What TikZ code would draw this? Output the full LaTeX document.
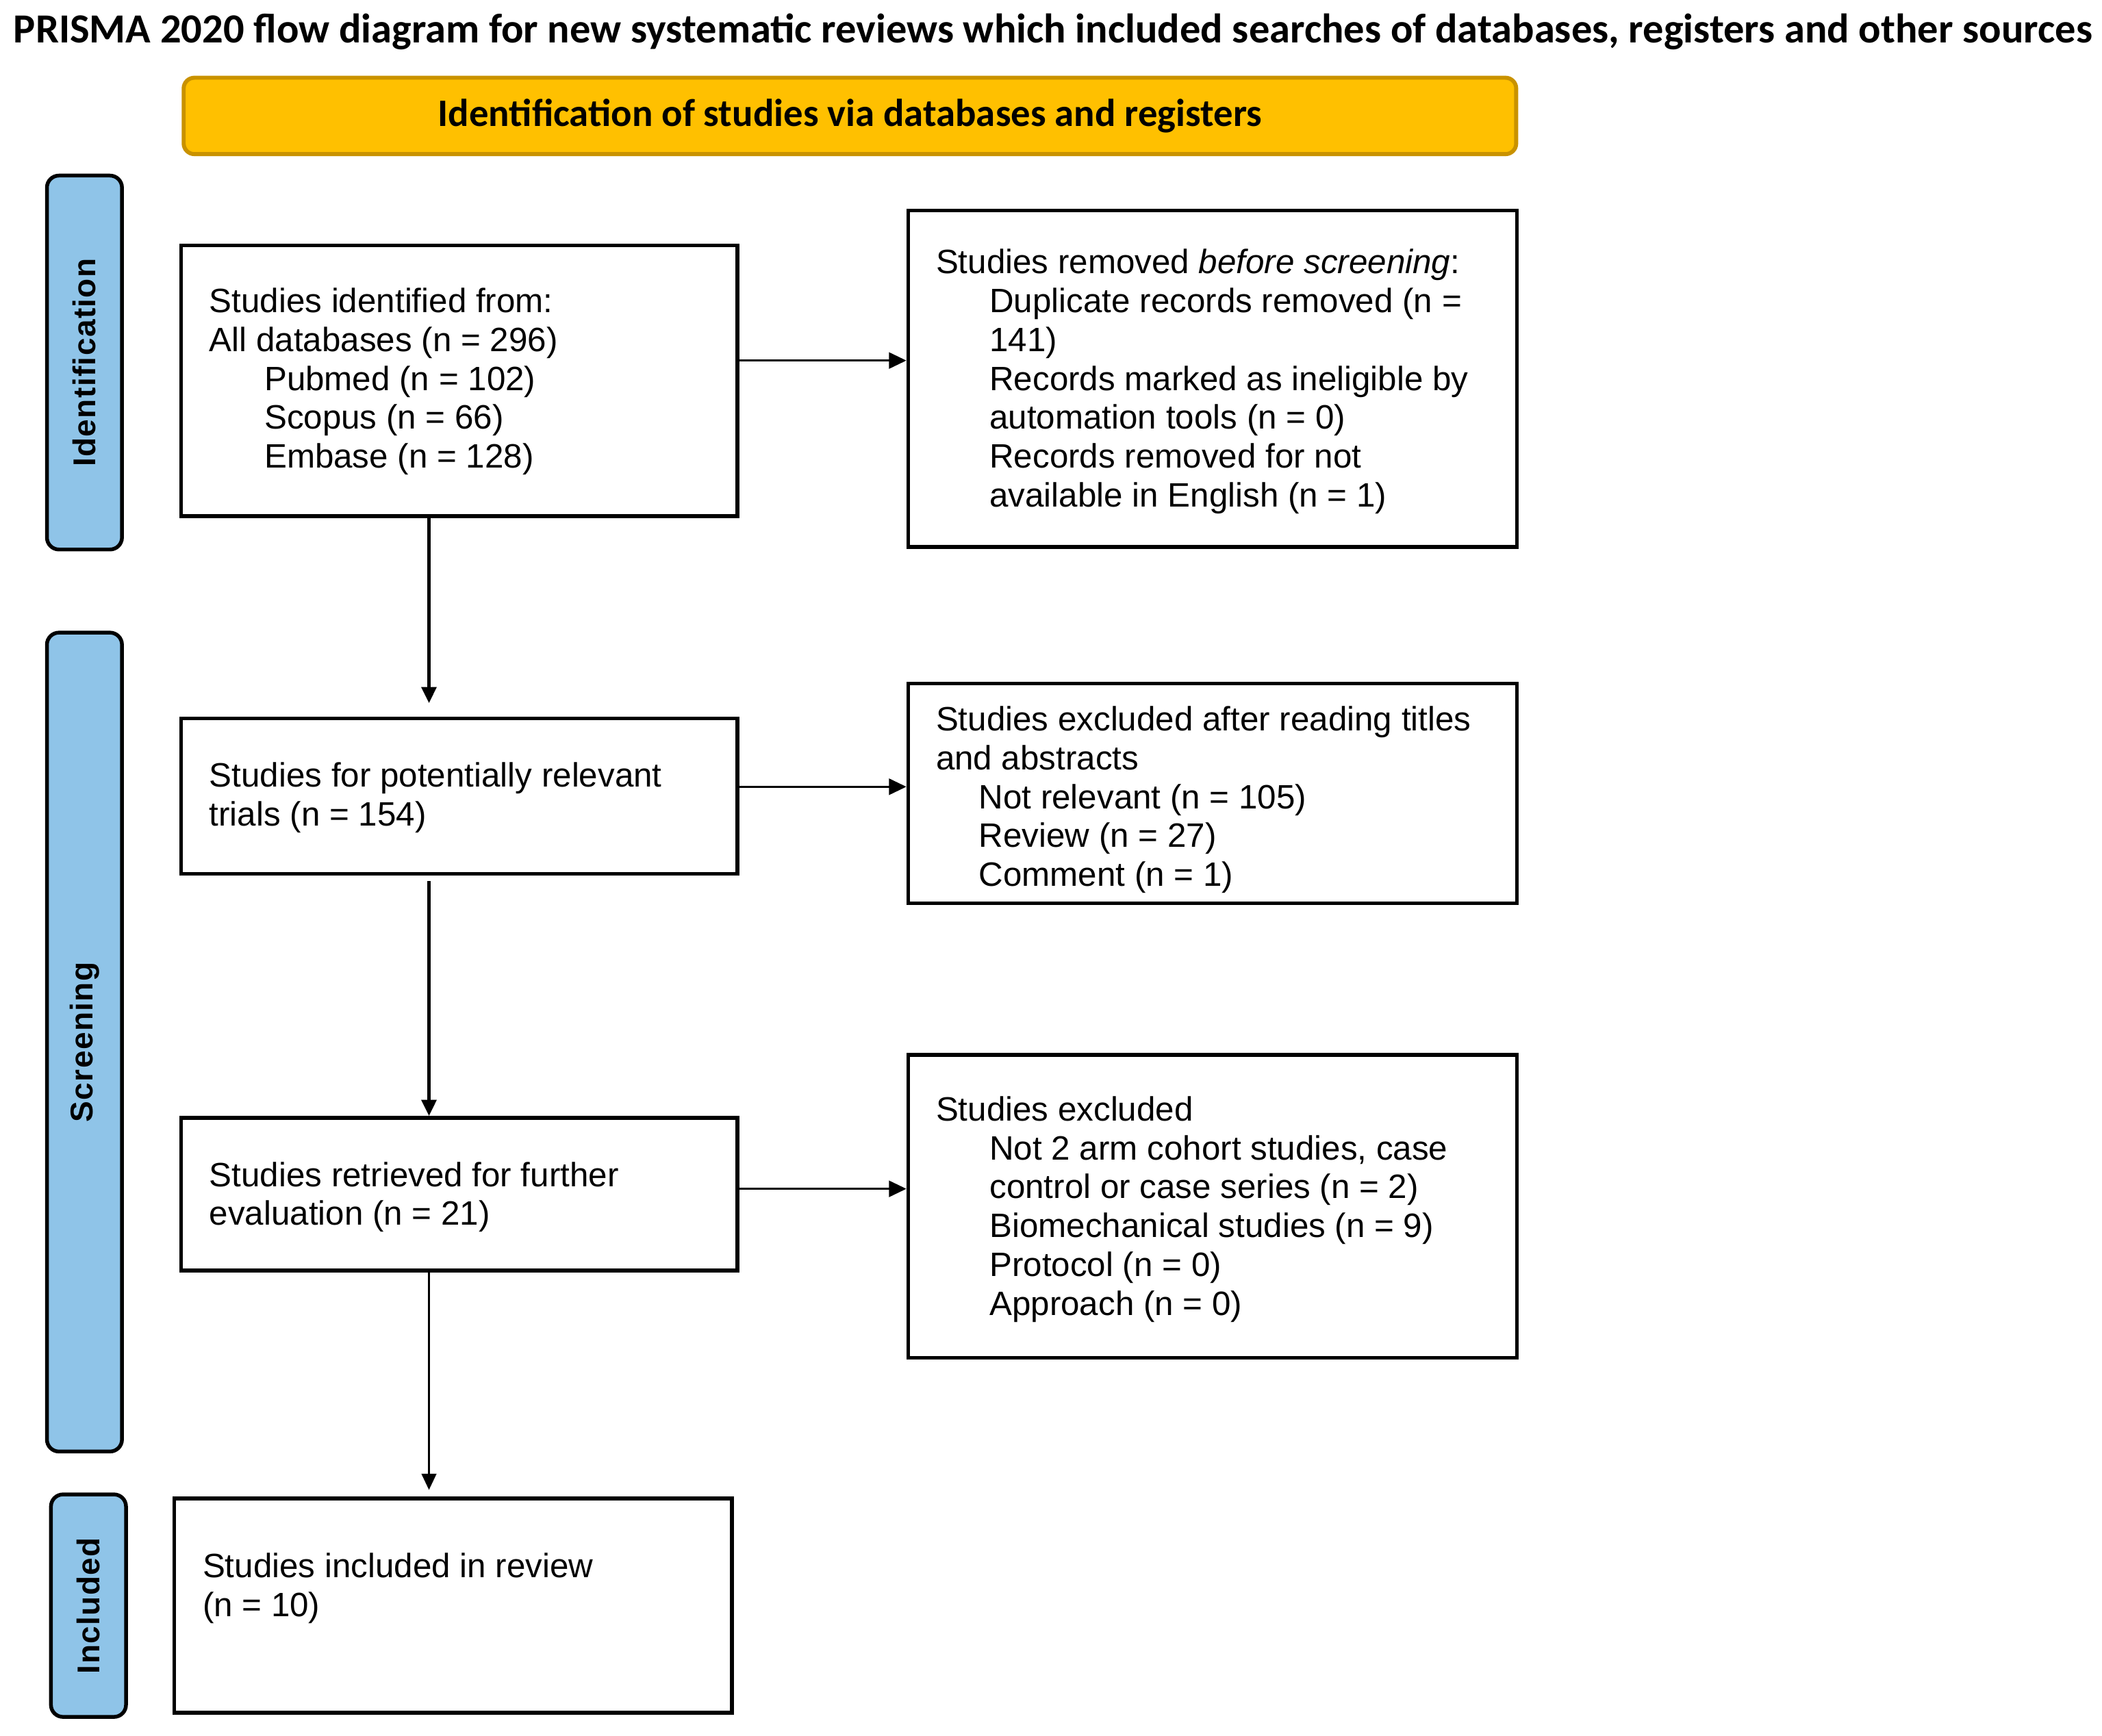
\documentclass[tikz,border=0pt]{standalone}
\usepackage{fontspec}
\setmainfont{Liberation Sans}
\newfontfamily\calib{Carlito}
\newfontfamily\sidefont[LetterSpace=3]{Liberation Sans}
\usetikzlibrary{arrows.meta,calc}
\definecolor{sideblue}{HTML}{8FC4E8}
\definecolor{hdrfill}{HTML}{FFC000}
\definecolor{hdrline}{HTML}{C99200}
\begin{document}
\begin{tikzpicture}[x=1pt,y=-1pt,
 box/.style={draw=black, line width=2.8pt, fill=white, inner sep=0pt},
 txt/.style={anchor=north west, inner sep=0pt, align=left, font=\fontsize{25.2}{29}\selectfont},
 side/.style={draw=black, line width=2.8pt, fill=sideblue, rounded corners=9pt, inner sep=0pt},
 sidelbl/.style={rotate=90, inner sep=0pt, font=\sidefont\bfseries\fontsize{23.5}{28}\selectfont},
 arr/.style={-{Triangle[length=12pt,width=11pt]}, line width=2.4pt},
 harr/.style={-{Triangle[length=13pt,width=12pt]}, line width=1.8pt},
]
\useasboundingbox (0,0) rectangle (1568,1295);

% title
\node[anchor=base west, inner sep=0pt, font=\calib\bfseries\fontsize{30.9}{36}\selectfont] (title) at (10,32)
 {PRISMA 2020 flow diagram for new systematic reviews which included searches of databases, registers and other sources};

% header
\node[draw=hdrline, line width=3pt, fill=hdrfill, rounded corners=8pt, minimum width=994pt, minimum height=57pt, inner sep=0pt,
 font=\calib\bfseries\fontsize{29}{34}\selectfont] (hdr) at (634,86.5) {Identification of studies via databases and registers};

% side bars
\node[side, minimum width=56pt, minimum height=279pt] (sid) at (63,270.5) {};
\node[sidelbl] (lid) at (sid.center) {Identification};
\node[side, minimum width=56pt, minimum height=611pt] (sscr) at (63,777.5) {};
\node[sidelbl] (lscr) at (sscr.center) {Screening};
\node[side, minimum width=56pt, minimum height=166pt] (sinc) at (66,1198) {};
\node[sidelbl] (linc) at (sinc.center) {Included};

% boxes
\node[box, minimum width=415pt, minimum height=202pt] (b1) at (342.5,284) {};
\node[box, minimum width=454pt, minimum height=251pt] (rem) at (904.5,282.5) {};
\node[box, minimum width=415pt, minimum height=116pt] (b2) at (342.5,594) {};
\node[box, minimum width=454pt, minimum height=164pt] (ex1) at (904.5,592) {};
\node[box, minimum width=415pt, minimum height=114pt] (b3) at (342.5,891) {};
\node[box, minimum width=454pt, minimum height=226pt] (ex2) at (904.5,900) {};
\node[box, minimum width=416pt, minimum height=160pt] (b4) at (338,1198) {};

% texts
\node[txt] (t1) at (156,213) {\rule{0pt}{20pt}Studies identified from:\\
All databases (n = 296)\\
\hspace*{41pt}Pubmed (n = 102)\\
\hspace*{41pt}Scopus (n = 66)\\
\hspace*{41pt}Embase (n = 128)};

\node[txt] (trem) at (698,184) {\rule{0pt}{20pt}Studies removed \textit{before screening}:\\
\hspace*{40pt}Duplicate records removed (n =\\
\hspace*{40pt}141)\\
\hspace*{40pt}Records marked as ineligible by\\
\hspace*{40pt}automation tools (n = 0)\\
\hspace*{40pt}Records removed for not\\
\hspace*{40pt}available in English (n = 1)};

\node[txt] (t2) at (156,567) {\rule{0pt}{20pt}Studies for potentially relevant\\
trials (n = 154)};

\node[txt] (tex1) at (698,525) {\rule{0pt}{20pt}Studies excluded after reading titles\\
and abstracts\\
\hspace*{32pt}Not relevant (n = 105)\\
\hspace*{32pt}Review (n = 27)\\
\hspace*{32pt}Comment (n = 1)};

\node[txt] (t3) at (156,865) {\rule{0pt}{20pt}Studies retrieved for further\\
evaluation (n = 21)};

\node[txt] (tex2) at (698,816) {\rule{0pt}{20pt}Studies excluded\\
\hspace*{40pt}Not 2 arm cohort studies, case\\
\hspace*{40pt}control or case series (n = 2)\\
\hspace*{40pt}Biomechanical studies (n = 9)\\
\hspace*{40pt}Protocol (n = 0)\\
\hspace*{40pt}Approach (n = 0)};

\node[txt] (t4) at (151,1157) {\rule{0pt}{20pt}Studies included in review\\
(n = 10)};

% connectors
\draw[arr] ([xshift=-22.5pt]b1.south) -- ([xshift=-22.5pt,yshift=10pt]b2.north);
\draw[arr] ([xshift=-22.5pt,yshift=-4pt]b2.south) -- ([xshift=-22.5pt]b3.north);
\draw[arr, line width=1.4pt] ([xshift=-22.5pt]b3.south) -- ([xshift=-18pt,yshift=5pt]b4.north);
\draw[harr] ([yshift=15pt]b1.east) -- ([yshift=15pt]b1.east -| rem.west);
\draw[harr] ([yshift=7pt]b2.east) -- ([yshift=7pt]b2.east -| ex1.west);
\draw[harr] ([yshift=4pt]b3.east) -- ([yshift=4pt]b3.east -| ex2.west);
\end{tikzpicture}
\end{document}
